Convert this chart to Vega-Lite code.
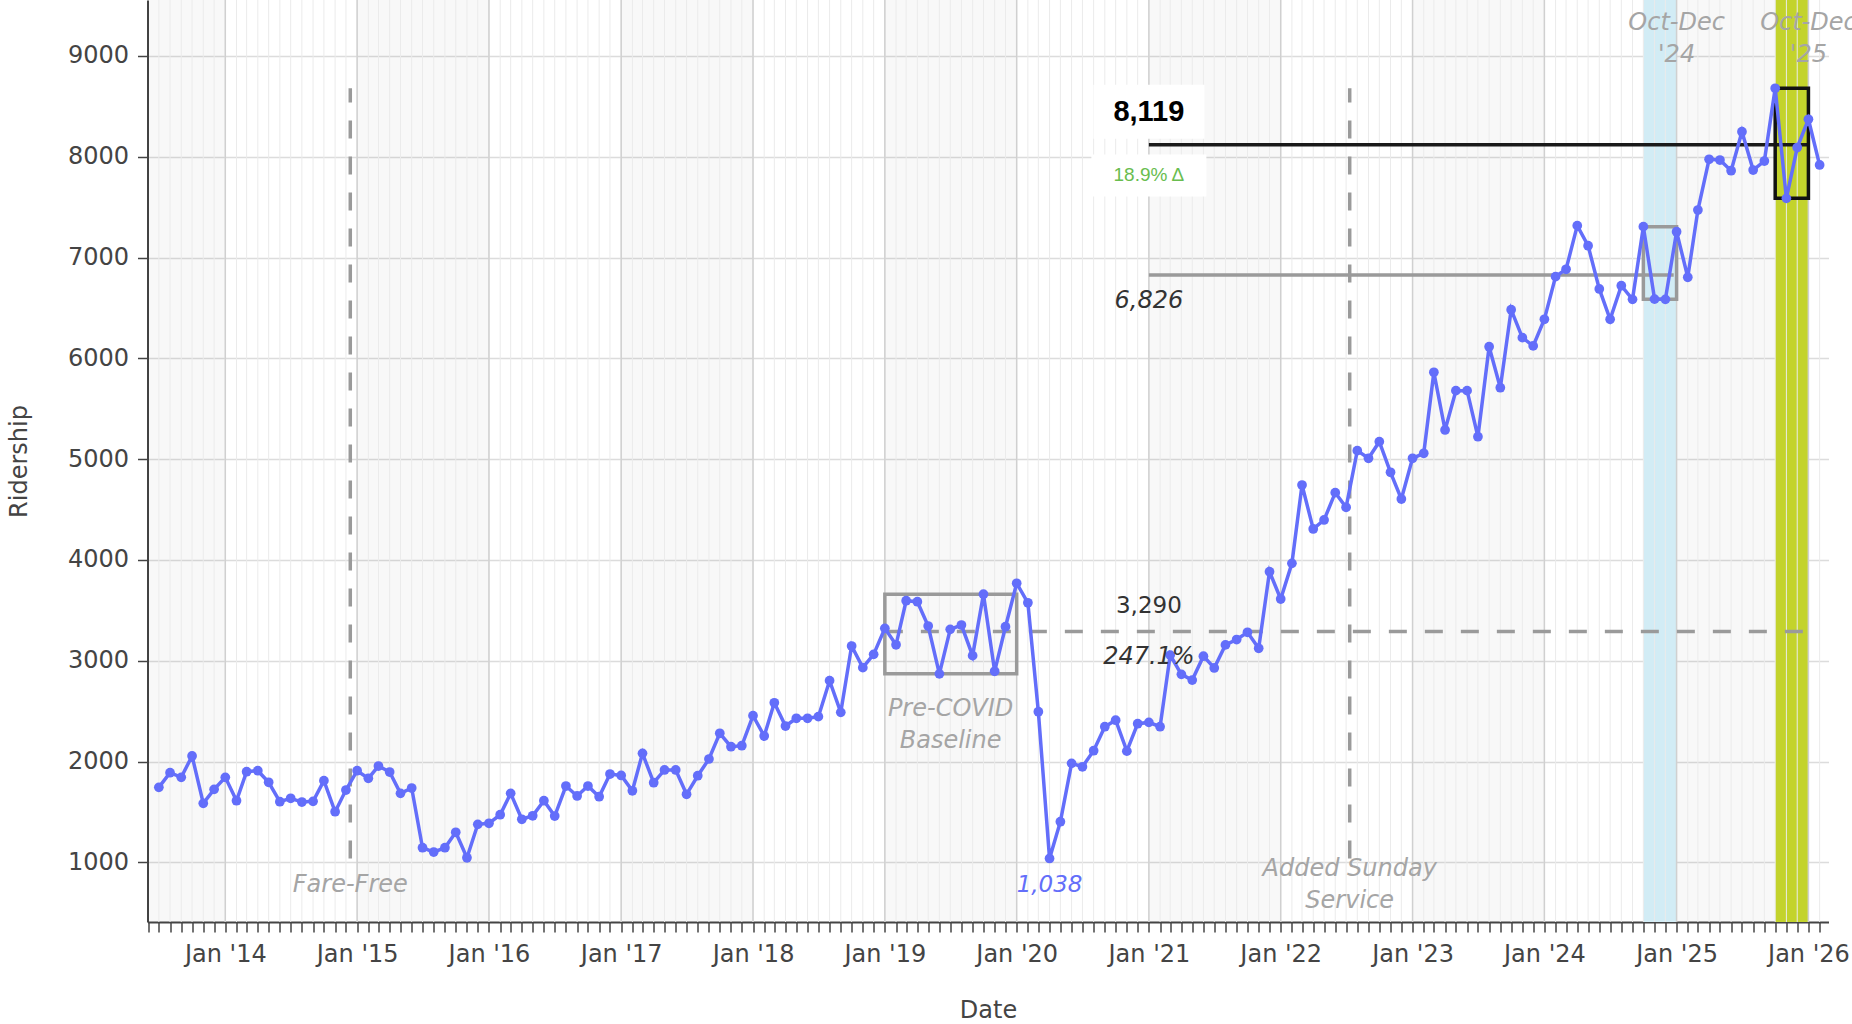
{
  "$schema": "https://vega.github.io/schema/vega-lite/v6.json",
  "width": 1681,
  "height": 922,
  "autosize": {"type": "none"},
  "padding": {"left": 147.5, "top": 0, "right": 23.5, "bottom": 102},
  "background": "white",
  "config": {"view": {"stroke": null}, "font": "DejaVu Sans"},
  "datasets": {
    "rides": [
      {"date": "2013-07-01", "riders": 1744}, {"date": "2013-08-01", "riders": 1889}, {"date": "2013-09-01", "riders": 1843},
      {"date": "2013-10-01", "riders": 2055}, {"date": "2013-11-01", "riders": 1585}, {"date": "2013-12-01", "riders": 1724},
      {"date": "2014-01-01", "riders": 1843}, {"date": "2014-02-01", "riders": 1611}, {"date": "2014-03-01", "riders": 1899},
      {"date": "2014-04-01", "riders": 1909}, {"date": "2014-05-01", "riders": 1794}, {"date": "2014-06-01", "riders": 1601},
      {"date": "2014-07-01", "riders": 1635}, {"date": "2014-08-01", "riders": 1598}, {"date": "2014-09-01", "riders": 1605},
      {"date": "2014-10-01", "riders": 1810}, {"date": "2014-11-01", "riders": 1502}, {"date": "2014-12-01", "riders": 1717},
      {"date": "2015-01-01", "riders": 1909}, {"date": "2015-02-01", "riders": 1833}, {"date": "2015-03-01", "riders": 1955},
      {"date": "2015-04-01", "riders": 1896}, {"date": "2015-05-01", "riders": 1684}, {"date": "2015-06-01", "riders": 1737},
      {"date": "2015-07-01", "riders": 1145}, {"date": "2015-08-01", "riders": 1102}, {"date": "2015-09-01", "riders": 1145},
      {"date": "2015-10-01", "riders": 1298}, {"date": "2015-11-01", "riders": 1045}, {"date": "2015-12-01", "riders": 1377},
      {"date": "2016-01-01", "riders": 1387}, {"date": "2016-02-01", "riders": 1472}, {"date": "2016-03-01", "riders": 1684},
      {"date": "2016-04-01", "riders": 1427}, {"date": "2016-05-01", "riders": 1462}, {"date": "2016-06-01", "riders": 1611},
      {"date": "2016-07-01", "riders": 1459}, {"date": "2016-08-01", "riders": 1757}, {"date": "2016-09-01", "riders": 1658},
      {"date": "2016-10-01", "riders": 1757}, {"date": "2016-11-01", "riders": 1651}, {"date": "2016-12-01", "riders": 1876},
      {"date": "2017-01-01", "riders": 1862}, {"date": "2017-02-01", "riders": 1710}, {"date": "2017-03-01", "riders": 2081},
      {"date": "2017-04-01", "riders": 1790}, {"date": "2017-05-01", "riders": 1916}, {"date": "2017-06-01", "riders": 1916},
      {"date": "2017-07-01", "riders": 1675}, {"date": "2017-08-01", "riders": 1859}, {"date": "2017-09-01", "riders": 2025},
      {"date": "2017-10-01", "riders": 2280}, {"date": "2017-11-01", "riders": 2147}, {"date": "2017-12-01", "riders": 2157},
      {"date": "2018-01-01", "riders": 2455}, {"date": "2018-02-01", "riders": 2253}, {"date": "2018-03-01", "riders": 2583},
      {"date": "2018-04-01", "riders": 2352}, {"date": "2018-05-01", "riders": 2429}, {"date": "2018-06-01", "riders": 2429},
      {"date": "2018-07-01", "riders": 2445}, {"date": "2018-08-01", "riders": 2802}, {"date": "2018-09-01", "riders": 2488},
      {"date": "2018-10-01", "riders": 3146}, {"date": "2018-11-01", "riders": 2931}, {"date": "2018-12-01", "riders": 3063},
      {"date": "2019-01-01", "riders": 3321}, {"date": "2019-02-01", "riders": 3158}, {"date": "2019-03-01", "riders": 3595},
      {"date": "2019-04-01", "riders": 3585}, {"date": "2019-05-01", "riders": 3344}, {"date": "2019-06-01", "riders": 2870},
      {"date": "2019-07-01", "riders": 3311}, {"date": "2019-08-01", "riders": 3354}, {"date": "2019-09-01", "riders": 3050},
      {"date": "2019-10-01", "riders": 3660}, {"date": "2019-11-01", "riders": 2895}, {"date": "2019-12-01", "riders": 3337},
      {"date": "2020-01-01", "riders": 3768}, {"date": "2020-02-01", "riders": 3575}, {"date": "2020-03-01", "riders": 2494},
      {"date": "2020-04-01", "riders": 1038}, {"date": "2020-05-01", "riders": 1403}, {"date": "2020-06-01", "riders": 1982},
      {"date": "2020-07-01", "riders": 1948}, {"date": "2020-08-01", "riders": 2107}, {"date": "2020-09-01", "riders": 2345},
      {"date": "2020-10-01", "riders": 2410}, {"date": "2020-11-01", "riders": 2103}, {"date": "2020-12-01", "riders": 2375},
      {"date": "2021-01-01", "riders": 2388}, {"date": "2021-02-01", "riders": 2345}, {"date": "2021-03-01", "riders": 3056},
      {"date": "2021-04-01", "riders": 2865}, {"date": "2021-05-01", "riders": 2808}, {"date": "2021-06-01", "riders": 3045},
      {"date": "2021-07-01", "riders": 2928}, {"date": "2021-08-01", "riders": 3157}, {"date": "2021-09-01", "riders": 3210},
      {"date": "2021-10-01", "riders": 3282}, {"date": "2021-11-01", "riders": 3123}, {"date": "2021-12-01", "riders": 3883},
      {"date": "2022-01-01", "riders": 3612}, {"date": "2022-02-01", "riders": 3966}, {"date": "2022-03-01", "riders": 4743},
      {"date": "2022-04-01", "riders": 4307}, {"date": "2022-05-01", "riders": 4396}, {"date": "2022-06-01", "riders": 4667},
      {"date": "2022-07-01", "riders": 4522}, {"date": "2022-08-01", "riders": 5084}, {"date": "2022-09-01", "riders": 5008},
      {"date": "2022-10-01", "riders": 5173}, {"date": "2022-11-01", "riders": 4869}, {"date": "2022-12-01", "riders": 4604},
      {"date": "2023-01-01", "riders": 5008}, {"date": "2023-02-01", "riders": 5058}, {"date": "2023-03-01", "riders": 5861},
      {"date": "2023-04-01", "riders": 5289}, {"date": "2023-05-01", "riders": 5679}, {"date": "2023-06-01", "riders": 5679},
      {"date": "2023-07-01", "riders": 5222}, {"date": "2023-08-01", "riders": 6115}, {"date": "2023-09-01", "riders": 5708},
      {"date": "2023-10-01", "riders": 6482}, {"date": "2023-11-01", "riders": 6205}, {"date": "2023-12-01", "riders": 6123},
      {"date": "2024-01-01", "riders": 6387}, {"date": "2024-02-01", "riders": 6810}, {"date": "2024-03-01", "riders": 6883},
      {"date": "2024-04-01", "riders": 7316}, {"date": "2024-05-01", "riders": 7117}, {"date": "2024-06-01", "riders": 6688},
      {"date": "2024-07-01", "riders": 6387}, {"date": "2024-08-01", "riders": 6720}, {"date": "2024-09-01", "riders": 6585},
      {"date": "2024-10-01", "riders": 7306}, {"date": "2024-11-01", "riders": 6587}, {"date": "2024-12-01", "riders": 6585},
      {"date": "2025-01-01", "riders": 7256}, {"date": "2025-02-01", "riders": 6804}, {"date": "2025-03-01", "riders": 7471},
      {"date": "2025-04-01", "riders": 7974}, {"date": "2025-05-01", "riders": 7967}, {"date": "2025-06-01", "riders": 7861},
      {"date": "2025-07-01", "riders": 8248}, {"date": "2025-08-01", "riders": 7868}, {"date": "2025-09-01", "riders": 7957},
      {"date": "2025-10-01", "riders": 8679}, {"date": "2025-11-01", "riders": 7587}, {"date": "2025-12-01", "riders": 8091},
      {"date": "2026-01-01", "riders": 8371}, {"date": "2026-02-01", "riders": 7918}
    ],
    "years": [
      {"start": "2013-01-01", "end": "2014-01-01"},
      {"start": "2015-01-01", "end": "2016-01-01"},
      {"start": "2017-01-01", "end": "2018-01-01"},
      {"start": "2019-01-01", "end": "2020-01-01"},
      {"start": "2021-01-01", "end": "2022-01-01"},
      {"start": "2023-01-01", "end": "2024-01-01"},
      {"start": "2025-01-01", "end": "2026-01-01"}
    ],
    "periods": [
      {"period": "Oct-Dec '24", "start": "2024-10-01", "end": "2025-01-01"},
      {"period": "Oct-Dec '25", "start": "2025-10-01", "end": "2026-01-01"}
    ],
    "events": [
      {"event": "Fare-Free", "date": "2014-12-13", "low": 1038, "high": 8679},
      {"event": "Added Sunday Service", "date": "2022-07-11", "low": 1038, "high": 8679}
    ],
    "boxes": [
      {"box": "Pre-COVID Baseline", "start": "2019-01-01", "end": "2020-01-01", "low": 2870, "high": 3660},
      {"box": "Oct-Dec '24", "start": "2024-10-01", "end": "2025-01-01", "low": 6585, "high": 7306},
      {"box": "Oct-Dec '25", "start": "2025-10-01", "end": "2026-01-01", "low": 7587, "high": 8679}
    ],
    "refs": [
      {"ref": "Pre-COVID average", "start": "2019-01-01", "end": "2026-01-01", "value": 3290},
      {"ref": "Oct-Dec '24 average", "start": "2021-01-01", "end": "2024-12-24", "value": 6826},
      {"ref": "Oct-Dec '25 average", "start": "2021-01-01", "end": "2026-01-01", "value": 8119}
    ],
    "notes": [
      {"note": "Fare-Free", "date": "2014-12-13", "value": 779, "role": "event"},
      {"note": "Added Sunday\nService", "date": "2022-07-11", "value": 934, "role": "event"},
      {"note": "Pre-COVID\nBaseline", "date": "2019-07-02", "value": 2525, "role": "period"},
      {"note": "Oct-Dec\n'24", "date": "2025-01-01", "value": 9326, "role": "period"},
      {"note": "Oct-Dec\n'25", "date": "2026-01-01", "value": 9326, "role": "period"},
      {"note": "3,290", "date": "2021-01-01", "value": 3538, "role": "baseline"},
      {"note": "247.1%", "date": "2021-01-01", "value": 3040, "role": "growth"},
      {"note": "6,826", "date": "2021-01-01", "value": 6573, "role": "prior"},
      {"note": "1,038", "date": "2020-04-01", "value": 779, "role": "low"},
      {"note": "8,119", "date": "2021-01-01", "value": 8445, "role": "current"},
      {"note": "18.9% Δ", "date": "2021-01-01", "value": 7814, "role": "change"}
    ]
  },
  "layer": [
    {
      "data": {"name": "years"},
      "mark": {"type": "rect", "color": "#000000", "opacity": 0.026, "clip": true},
      "encoding": {
        "x": {
          "field": "start", "type": "temporal",
          "scale": {"domain": [{"year": 2013, "month": 5, "date": 30, "hours": 14}, {"year": 2026, "month": 2, "date": 25, "hours": 14}]},
          "axis": {
            "title": "Date",
            "tickCount": {"interval": "month", "step": 1},
            "labelExpr": "month(datum.value) === 0 ? timeFormat(datum.value, \"%b '%y\") : ''",
            "grid": false,
            "tickSize": 10, "tickColor": "#444444", "tickWidth": 1.5,
            "domainColor": "#444444", "domainWidth": 2,
            "labelFont": "DejaVu Sans", "labelFontSize": 24, "labelColor": "#444444", "labelPadding": 10,
            "labelOverlap": false, "labelFlush": false, "labelBound": false,
            "titleFont": "DejaVu Sans", "titleFontSize": 24, "titleFontWeight": "normal", "titleColor": "#444444", "titlePadding": 32
          }
        },
        "x2": {"field": "end"}
      }
    },
    {
      "data": {"name": "periods"},
      "mark": {"type": "rect", "clip": true},
      "encoding": {
        "x": {"field": "start", "type": "temporal"},
        "x2": {"field": "end"},
        "color": {"field": "period", "type": "nominal", "scale": {"domain": ["Oct-Dec '24", "Oct-Dec '25"], "range": ["#d2ecf5", "#c3d32c"]}, "legend": null}
      }
    },
    {
      "data": {"name": "rides"},
      "mark": {"type": "rule", "color": "#ebebeb", "strokeWidth": 1},
      "encoding": {"x": {"field": "date", "type": "temporal"}}
    },
    {
      "data": {"name": "rides"},
      "transform": [{"filter": "utcmonth(toDate(datum.date)) === 0"}],
      "mark": {"type": "rule", "color": "#d0d0d0", "strokeWidth": 1.5},
      "encoding": {"x": {"field": "date", "type": "temporal"}}
    },
    {
      "data": {"name": "events"},
      "mark": {"type": "rule", "color": "#9a9a9a", "strokeWidth": 3.5, "strokeDash": [18, 18]},
      "encoding": {
        "x": {"field": "date", "type": "temporal"},
        "y": {"field": "low", "type": "quantitative"},
        "y2": {"field": "high"}
      }
    },
    {
      "data": {"name": "refs"},
      "transform": [{"filter": "datum.ref === 'Pre-COVID average'"}],
      "mark": {"type": "rule", "color": "#9a9a9a", "strokeWidth": 3.5, "strokeDash": [18, 18]},
      "encoding": {
        "x": {"field": "start", "type": "temporal"},
        "x2": {"field": "end"},
        "y": {"field": "value", "type": "quantitative"}
      }
    },
    {
      "data": {"name": "refs"},
      "transform": [{"filter": "datum.ref === \"Oct-Dec '24 average\""}],
      "mark": {"type": "rule", "color": "#9a9a9a", "strokeWidth": 3.5},
      "encoding": {
        "x": {"field": "start", "type": "temporal"},
        "x2": {"field": "end"},
        "y": {"field": "value", "type": "quantitative"}
      }
    },
    {
      "data": {"name": "refs"},
      "transform": [{"filter": "datum.ref === \"Oct-Dec '25 average\""}],
      "mark": {"type": "rule", "color": "#1a1a1a", "strokeWidth": 3.5},
      "encoding": {
        "x": {"field": "start", "type": "temporal"},
        "x2": {"field": "end"},
        "y": {"field": "value", "type": "quantitative"}
      }
    },
    {
      "data": {"name": "boxes"},
      "mark": {"type": "rect", "filled": false, "strokeWidth": 3.5},
      "encoding": {
        "x": {"field": "start", "type": "temporal"},
        "x2": {"field": "end"},
        "y": {"field": "low", "type": "quantitative"},
        "y2": {"field": "high"},
        "stroke": {"field": "box", "type": "nominal", "scale": {"domain": ["Pre-COVID Baseline", "Oct-Dec '24", "Oct-Dec '25"], "range": ["#9a9a9a", "#9a9a9a", "#111111"]}, "legend": null}
      }
    },
    {
      "data": {"name": "notes"},
      "transform": [{"filter": "datum.role === 'current'"}],
      "mark": {"type": "rect", "color": "white", "width": 111, "height": 54},
      "encoding": {
        "x": {"field": "date", "type": "temporal"},
        "y": {"field": "value", "type": "quantitative"}
      }
    },
    {
      "data": {"name": "notes"},
      "transform": [{"filter": "datum.role === 'change'"}],
      "mark": {"type": "rect", "color": "white", "width": 115, "height": 42},
      "encoding": {
        "x": {"field": "date", "type": "temporal"},
        "y": {"field": "value", "type": "quantitative"}
      }
    },
    {
      "data": {"name": "rides"},
      "mark": {"type": "line", "color": "#636efa", "strokeWidth": 3.5, "point": {"filled": true, "size": 95, "color": "#636efa"}},
      "encoding": {
        "x": {"field": "date", "type": "temporal"},
        "y": {
          "field": "riders", "type": "quantitative",
          "scale": {"domain": [408, 9554.5], "nice": false, "zero": false},
          "axis": {
            "title": "Ridership",
            "values": [1000, 2000, 3000, 4000, 5000, 6000, 7000, 8000, 9000],
            "format": "d",
            "grid": true, "gridColor": "#dcdcdc", "gridWidth": 1.5,
            "tickSize": 10, "tickColor": "#444444", "tickWidth": 1.5,
            "domainColor": "#444444", "domainWidth": 2,
            "labelFont": "DejaVu Sans", "labelFontSize": 24, "labelColor": "#444444", "labelPadding": 9,
            "titleFont": "DejaVu Sans", "titleFontSize": 24, "titleFontWeight": "normal", "titleColor": "#444444", "titlePadding": 36
          }
        }
      }
    },
    {
      "data": {"name": "notes"},
      "transform": [{"filter": "datum.role === 'event' || datum.role === 'period'"}],
      "mark": {"type": "text", "font": "DejaVu Sans", "fontSize": 24, "fontStyle": "italic", "color": "#a5a5a5", "align": "center", "baseline": "middle", "lineBreak": "\n", "lineHeight": 32},
      "encoding": {
        "x": {"field": "date", "type": "temporal"},
        "y": {"field": "value", "type": "quantitative"},
        "text": {"field": "note", "type": "nominal"}
      }
    },
    {
      "data": {"name": "notes"},
      "transform": [{"filter": "datum.role === 'baseline'"}],
      "mark": {"type": "text", "font": "DejaVu Sans", "fontSize": 23, "color": "#333333", "align": "center", "baseline": "middle"},
      "encoding": {
        "x": {"field": "date", "type": "temporal"},
        "y": {"field": "value", "type": "quantitative"},
        "text": {"field": "note", "type": "nominal"}
      }
    },
    {
      "data": {"name": "notes"},
      "transform": [{"filter": "datum.role === 'growth' || datum.role === 'prior'"}],
      "mark": {"type": "text", "font": "DejaVu Sans", "fontSize": 24, "fontStyle": "italic", "color": "#333333", "align": "center", "baseline": "middle"},
      "encoding": {
        "x": {"field": "date", "type": "temporal"},
        "y": {"field": "value", "type": "quantitative"},
        "text": {"field": "note", "type": "nominal"}
      }
    },
    {
      "data": {"name": "notes"},
      "transform": [{"filter": "datum.role === 'low'"}],
      "mark": {"type": "text", "font": "DejaVu Sans", "fontSize": 23, "fontStyle": "italic", "color": "#636efa", "align": "center", "baseline": "middle"},
      "encoding": {
        "x": {"field": "date", "type": "temporal"},
        "y": {"field": "value", "type": "quantitative"},
        "text": {"field": "note", "type": "nominal"}
      }
    },
    {
      "data": {"name": "notes"},
      "transform": [{"filter": "datum.role === 'current'"}],
      "mark": {"type": "text", "font": "Liberation Sans", "fontSize": 29, "fontWeight": "bold", "color": "#000000", "align": "center", "baseline": "middle"},
      "encoding": {
        "x": {"field": "date", "type": "temporal"},
        "y": {"field": "value", "type": "quantitative"},
        "text": {"field": "note", "type": "nominal"}
      }
    },
    {
      "data": {"name": "notes"},
      "transform": [{"filter": "datum.role === 'change'"}],
      "mark": {"type": "text", "font": "Liberation Sans", "fontSize": 19, "color": "#69bd4f", "align": "center", "baseline": "middle"},
      "encoding": {
        "x": {"field": "date", "type": "temporal"},
        "y": {"field": "value", "type": "quantitative"},
        "text": {"field": "note", "type": "nominal"}
      }
    }
  ]
}
